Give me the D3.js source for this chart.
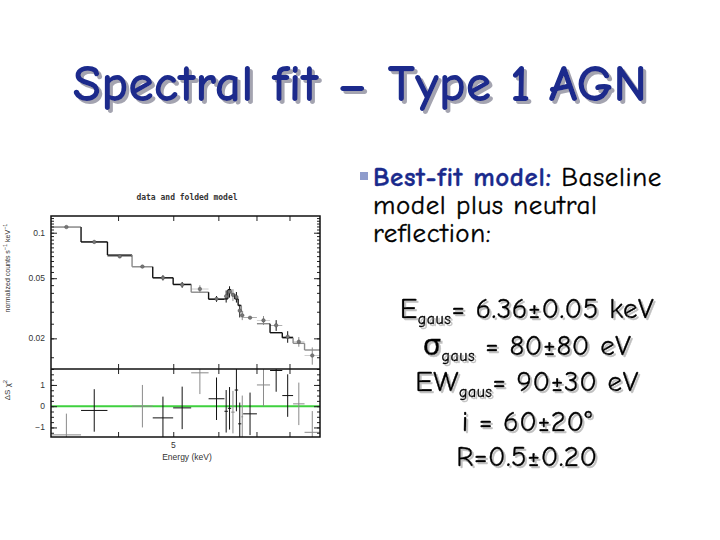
<!DOCTYPE html>
<html>
<head>
<meta charset="utf-8">
<script src="https://cdn.jsdelivr.net/npm/d3@7"></script>
<style>
  body { margin: 0; background: #fff; }
  svg { display: block; }
</style>
</head>
<body>
<script>
// spectrum bins (keV)
var energyLo = [3.059, 3.444, 3.832, 4.233, 4.602, 4.998, 5.376, 5.768, 6.150, 6.236,
                6.320, 6.410, 6.500, 6.585, 6.633, 7.013, 7.395, 7.770, 8.117, 8.502];
var energyHi = [3.444, 3.832, 4.233, 4.602, 4.998, 5.376, 5.768, 6.150, 6.236, 6.320,
                6.410, 6.500, 6.585, 6.633, 7.013, 7.395, 7.770, 8.117, 8.502, 9.05];
var rate     = [0.109, 0.0869, 0.0697, 0.0597, 0.0503, 0.0452, 0.0424, 0.0365, 0.0380, 0.0407,
                0.0388, 0.0375, 0.0305, 0.0284, 0.0274, 0.0263, 0.0244, 0.0205, 0.0190, 0.0154];
var rateErr  = [0.002, 0.0017, 0.0014, 0.0015, 0.0020, 0.0020, 0.0025, 0.0016, 0.0035, 0.0035,
                0.0035, 0.0030, 0.0030, 0.0020, 0.0004, 0.0018, 0.0020, 0.0018, 0.0014, 0.0020];
var model    = [0.109, 0.0869, 0.0711, 0.0595, 0.0503, 0.0455, 0.0404, 0.0363, 0.0365, 0.0420,
                0.0393, 0.0365, 0.0330, 0.0299, null, 0.0250, 0.0218, 0.0202, 0.01854, 0.01675];
var resid    = [-1.35, -0.2, null, 0.0, -0.55, -0.08, 1.57, 0.35, -0.24, -0.1,
                -0.28, 0.76, -0.83, -0.5, -0.36, 1.0, 1.68, 0.5, 0.11, -1.23];
var instrument = [1, 0, 0, 1, 0, 0, 1, 0, 0, 0, 1, 0, 0, 1, 0, 1, 0, 0, 1, 1];

var yLabelTicks = [0.1, 0.05, 0.02];
var rLabelTicks = [1, 0, -1];
var xLabelTicks = [5];
var xMajorTicks = [4, 5, 6, 7, 8];

var fitLines = [
  {main: "E", sub: "gaus", rest: "= 6.36\u00b10.05 keV"},
  {main: "\u03c3", sub: "gaus", rest: " = 80\u00b180 eV"},
  {main: "EW", sub: "gaus", rest: "= 90\u00b130 eV"},
  {main: "i = 60\u00b120\u00b0", sub: "", rest: ""},
  {main: "R=0.5\u00b10.20", sub: "", rest: ""}
];

var bins = energyLo.map(function(d, i) {
  return {lo: d, hi: energyHi[i], rate: rate[i], err: rateErr[i], model: model[i],
          resid: resid[i], inst: instrument[i]};
});

var instColor = ["#111", "#8a8a8a"];
var svg = d3.select("body").append("svg").attr("width", 720).attr("height", 540);
var defs = svg.append("defs");

defs.append("filter").attr("id", "shadowTitle").append("feDropShadow")
  .attr("dx", 3).attr("dy", 3).attr("stdDeviation", 0.6)
  .attr("flood-color", "#9a9aa8").attr("flood-opacity", 0.9);
defs.append("filter").attr("id", "shadowText").append("feDropShadow")
  .attr("dx", 2).attr("dy", 2).attr("stdDeviation", 0.6)
  .attr("flood-color", "#b0b0b0").attr("flood-opacity", 0.8);

var titleFont = "'Comic Sans MS','Comic Neue','DejaVu Sans',sans-serif";

svg.append("text")
  .attr("x", 360).attr("y", 101)
  .attr("text-anchor", "middle")
  .attr("font-family", titleFont).attr("font-weight", "bold")
  .attr("font-size", 52).attr("fill", "#1a2a8c")
  .attr("filter", "url(#shadowTitle)")
  .text("Spectral fit \u2013 Type 1 AGN");

// ---- chart ----
var x = d3.scaleLog().domain([3.05, 9.05]).range([51, 320]);
var y = d3.scaleLog().domain([0.01254, 0.129]).range([369, 216]);
var yr = d3.scaleLinear().domain([-1.45, 1.75]).range([437, 369]);
var mid = function(b) { return Math.sqrt(b.lo * b.hi); };
var axisFont = "'Liberation Sans',Arial,sans-serif";

svg.append("text").attr("x", 187).attr("y", 200).attr("text-anchor", "middle")
  .attr("font-family", "'DejaVu Sans Mono',monospace").attr("font-weight", "bold")
  .attr("font-size", 8).attr("fill", "#333").text("data and folded model");

defs.append("clipPath").attr("id", "clipTop").append("rect")
  .attr("x", 51).attr("y", 216).attr("width", 269).attr("height", 153);
defs.append("clipPath").attr("id", "clipRes").append("rect")
  .attr("x", 51).attr("y", 369).attr("width", 269).attr("height", 68);

var upper = svg.append("g").attr("clip-path", "url(#clipTop)");

// model steps
var mb = bins.filter(function(b) { return b.model != null; });
upper.selectAll("line.step").data(mb).enter().append("line")
  .attr("class", "step")
  .attr("x1", function(d) { return x(d.lo); }).attr("x2", function(d) { return x(d.hi); })
  .attr("y1", function(d) { return y(d.model); }).attr("y2", function(d) { return y(d.model); })
  .attr("stroke", function(d) { return instColor[d.inst]; }).attr("stroke-width", 1.4);
upper.selectAll("line.riser").data(mb.slice(1)).enter().append("line")
  .attr("class", "riser")
  .attr("x1", function(d) { return x(d.lo); }).attr("x2", function(d) { return x(d.lo); })
  .attr("y1", function(d, i) { return y(mb[i].hi === d.lo ? mb[i].model : d.model); })
  .attr("y2", function(d) { return y(d.model); })
  .attr("stroke", function(d) { return instColor[d.inst]; }).attr("stroke-width", 1.4);

// data crosses
upper.selectAll("line.herr").data(bins).enter().append("line")
  .attr("class", "herr")
  .attr("x1", function(d) { return x(d.lo); }).attr("x2", function(d) { return x(d.hi); })
  .attr("y1", function(d) { return y(d.rate); }).attr("y2", function(d) { return y(d.rate); })
  .attr("stroke", function(d) { return instColor[d.inst]; }).attr("stroke-width", 0.6)
  .attr("opacity", 0.7);
upper.selectAll("line.verr").data(bins).enter().append("line")
  .attr("class", "verr")
  .attr("x1", function(d) { return x(mid(d)); }).attr("x2", function(d) { return x(mid(d)); })
  .attr("y1", function(d) { return y(d.rate - d.err); }).attr("y2", function(d) { return y(d.rate + d.err); })
  .attr("stroke", function(d) { return instColor[d.inst]; }).attr("stroke-width", 1);
upper.selectAll("circle").data(bins).enter().append("circle")
  .attr("cx", function(d) { return x(mid(d)); }).attr("cy", function(d) { return y(d.rate); })
  .attr("r", 1.8).attr("fill", "#777").attr("stroke", "#444").attr("stroke-width", 0.4);

// residuals
var res = svg.append("g").attr("clip-path", "url(#clipRes)");
res.append("line").attr("x1", 51).attr("x2", 320).attr("y1", yr(0)).attr("y2", yr(0))
  .attr("stroke", "#3fd13f").attr("stroke-width", 2);
var rb = bins.filter(function(b) { return b.resid != null; });
res.selectAll("line.rh").data(rb).enter().append("line")
  .attr("class", "rh")
  .attr("x1", function(d) { return x(d.lo); }).attr("x2", function(d) { return x(d.hi); })
  .attr("y1", function(d) { return yr(d.resid); }).attr("y2", function(d) { return yr(d.resid); })
  .attr("stroke", function(d) { return instColor[d.inst]; }).attr("stroke-width", 1);
res.selectAll("line.rv").data(rb).enter().append("line")
  .attr("class", "rv")
  .attr("x1", function(d) { return x(mid(d)); }).attr("x2", function(d) { return x(mid(d)); })
  .attr("y1", function(d) { return yr(d.resid - 1); }).attr("y2", function(d) { return yr(d.resid + 1); })
  .attr("stroke", function(d) { return instColor[d.inst]; }).attr("stroke-width", 1);

// axes (ticks drawn inward)
function tickAxis(axis, g, ticks, size) {
  g.call(axis.tickValues(ticks).tickSize(size).tickFormat(""))
    .call(function(s) { s.select(".domain").remove(); s.selectAll("line").attr("stroke", "#222"); });
}
var yMinor = y.ticks(20);
var rMinor = d3.range(-1.25, 1.76, 0.25);
tickAxis(d3.axisLeft(y), svg.append("g").attr("transform", "translate(51,0)"), yMinor, -3);
tickAxis(d3.axisLeft(y), svg.append("g").attr("transform", "translate(51,0)"), yLabelTicks, -6);
tickAxis(d3.axisRight(y), svg.append("g").attr("transform", "translate(320,0)"), yMinor, -3);
tickAxis(d3.axisRight(y), svg.append("g").attr("transform", "translate(320,0)"), yLabelTicks, -6);
tickAxis(d3.axisLeft(yr), svg.append("g").attr("transform", "translate(51,0)"), rMinor, -3);
tickAxis(d3.axisLeft(yr), svg.append("g").attr("transform", "translate(51,0)"), rLabelTicks, -6);
tickAxis(d3.axisRight(yr), svg.append("g").attr("transform", "translate(320,0)"), rMinor, -3);
tickAxis(d3.axisRight(yr), svg.append("g").attr("transform", "translate(320,0)"), rLabelTicks, -6);
[216, 369].forEach(function(py) {
  tickAxis(d3.axisTop(x), svg.append("g").attr("transform", "translate(0," + py + ")"), xMajorTicks, -5);
});
[369, 437].forEach(function(py) {
  tickAxis(d3.axisBottom(x), svg.append("g").attr("transform", "translate(0," + py + ")"), xMajorTicks, -5);
});

// frames
svg.append("rect").attr("x", 51).attr("y", 216).attr("width", 269).attr("height", 221)
  .attr("fill", "none").attr("stroke", "#111").attr("stroke-width", 1.5);
svg.append("line").attr("x1", 51).attr("x2", 320).attr("y1", 369).attr("y2", 369)
  .attr("stroke", "#111").attr("stroke-width", 1.5);

// tick labels
svg.selectAll("text.yl").data(yLabelTicks).enter().append("text")
  .attr("class", "yl")
  .attr("x", 45).attr("y", function(d) { return y(d) + 3; }).attr("text-anchor", "end")
  .attr("font-family", axisFont).attr("font-size", 8.5).attr("fill", "#333")
  .text(function(d) { return d; });
svg.selectAll("text.rl").data(rLabelTicks).enter().append("text")
  .attr("class", "rl")
  .attr("x", 45).attr("y", function(d) { return yr(d) + 3; }).attr("text-anchor", "end")
  .attr("font-family", axisFont).attr("font-size", 8.5).attr("fill", "#333")
  .text(function(d) { return d < 0 ? "\u2212" + (-d) : d; });
svg.selectAll("text.xl").data(xLabelTicks).enter().append("text")
  .attr("class", "xl")
  .attr("x", function(d) { return x(d); }).attr("y", 448).attr("text-anchor", "middle")
  .attr("font-family", axisFont).attr("font-size", 8.5).attr("fill", "#333")
  .text(function(d) { return d; });
svg.append("text").attr("x", 187).attr("y", 460).attr("text-anchor", "middle")
  .attr("font-family", axisFont).attr("font-size", 8.5).attr("fill", "#333").text("Energy (keV)");

var yl = svg.append("text").attr("transform", "translate(10,268) rotate(-90)")
  .attr("text-anchor", "middle").attr("font-family", axisFont).attr("font-size", 7)
  .attr("fill", "#333");
yl.append("tspan").text("normalized counts s");
yl.append("tspan").attr("dy", -3).attr("font-size", 5.5).text("\u22121");
yl.append("tspan").attr("dy", 3).text(" keV");
yl.append("tspan").attr("dy", -3).attr("font-size", 5.5).text("\u22121");

var rl = svg.append("text").attr("transform", "translate(10,390) rotate(-90)")
  .attr("text-anchor", "middle").attr("font-family", axisFont).attr("font-size", 8)
  .attr("fill", "#333");
rl.append("tspan").text("\u0394S \u03c7");
rl.append("tspan").attr("dy", -3).attr("font-size", 6).text("2");

// ---- right-hand text ----
var bodyFont = titleFont;
svg.append("rect").attr("x", 360).attr("y", 172).attr("width", 8).attr("height", 8)
  .attr("fill", "#8f9ccc");

function bodyText(sel) {
  return sel.attr("font-family", bodyFont).attr("font-size", 27).attr("letter-spacing", 0.6)
    .attr("fill", "#000").attr("stroke", "#000").attr("stroke-width", 0.35);
}
var l1 = bodyText(svg.append("text").attr("x", 373).attr("y", 186));
l1.append("tspan").attr("font-weight", "bold").attr("fill", "#1a2a8c").attr("stroke", "#1a2a8c")
  .text("Best-fit model:");
l1.append("tspan").text(" Baseline");
bodyText(svg.append("text").attr("x", 373).attr("y", 214)).text("model plus neutral");
bodyText(svg.append("text").attr("x", 373).attr("y", 242)).text("reflection:");

var lineY = [318, 355, 391, 431, 466];
svg.selectAll("text.fit").data(fitLines).enter().append("text")
  .attr("class", "fit")
  .attr("x", 527).attr("y", function(d, i) { return lineY[i]; })
  .attr("text-anchor", "middle").attr("font-family", bodyFont)
  .attr("font-size", 29).attr("letter-spacing", 0.5).attr("fill", "#000")
  .attr("stroke", "#000").attr("stroke-width", 0.4)
  .attr("filter", "url(#shadowText)")
  .each(function(d) {
    var t = d3.select(this);
    t.append("tspan").text(d.main);
    if (d.sub) {
      t.append("tspan").attr("dy", 6).attr("font-size", 16).text(d.sub);
      t.append("tspan").attr("dy", -6).text(d.rest);
    }
  });
</script>
</body>
</html>
